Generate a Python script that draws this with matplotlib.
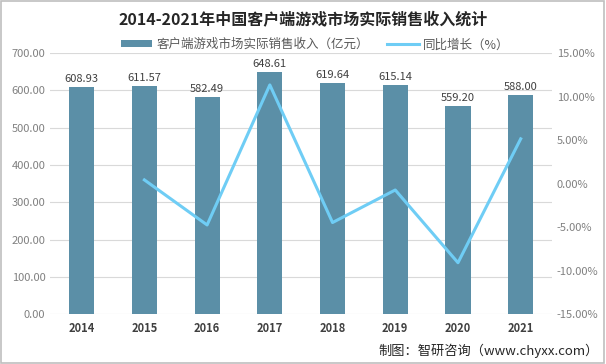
import matplotlib
matplotlib.use('Agg')
import matplotlib.pyplot as plt
import numpy as np

plt.rcParams['font.family'] = ['Noto Sans CJK SC', 'DejaVu Sans']

years = ['2014', '2015', '2016', '2017', '2018', '2019', '2020', '2021']
revenue = [608.93, 611.57, 582.49, 648.61, 619.64, 615.14, 559.20, 588.00]
growth_years = ['2015', '2016', '2017', '2018', '2019', '2020', '2021']
growth = [0.43, -4.75, 11.35, -4.47, -0.73, -9.09, 5.15]

bar_color = '#5b8fa7'
line_color = '#6fcdf5'
text_color = '#595959'

fig = plt.figure(figsize=(6.06, 3.64), dpi=100)
ax = fig.add_axes([0.083, 0.137, 0.828, 0.717])
x = np.arange(len(years))
bars = ax.bar(x, revenue, width=0.4, color=bar_color, zorder=2,
              label='客户端游戏市场实际销售收入（亿元）')
for xi, v in zip(x, revenue):
    ax.text(xi, v + 8, f'{v:.2f}', ha='center', va='bottom', fontsize=8, color='#404040')

ax.set_ylim(0, 700)
ax.set_yticks(np.arange(0, 701, 100))
ax.set_yticklabels([f'{v:.2f}' for v in np.arange(0, 701, 100)])
ax.set_xlim(-0.5, len(years) - 0.5)
ax.set_xticks(x)
ax.set_xticklabels(years, fontweight='bold', fontsize=8, color='#404040')
ax.tick_params(axis='y', labelsize=8, colors='#808080', length=0)
ax.tick_params(axis='x', length=0, pad=6)
ax.grid(axis='y', color='#d9d9d9', linewidth=0.8, zorder=0)
for s in ax.spines.values():
    s.set_visible(False)

ax2 = ax.twinx()
gx = [years.index(y) for y in growth_years]
ax2.plot(gx, growth, color=line_color, linewidth=2.2, zorder=3,
         label='同比增长（%）')
ax2.set_ylim(-15, 15)
ax2.set_yticks(np.arange(-15, 16, 5))
ax2.set_yticklabels([f'{v:.2f}%' for v in np.arange(-15, 16, 5)])
ax2.tick_params(axis='y', labelsize=8, colors='#808080', length=0)
for s in ax2.spines.values():
    s.set_visible(False)

h1, l1 = ax.get_legend_handles_labels()
h2, l2 = ax2.get_legend_handles_labels()
fig.legend(h1 + h2, l1 + l2, loc='center', bbox_to_anchor=(0.52, 0.877), ncol=2,
           frameon=False, fontsize=9, handlelength=2.5, columnspacing=1.5,
           handletextpad=0.3, labelcolor=text_color, handleheight=0.5)

fig.text(0.5, 0.945, '2014-2021年中国客户端游戏市场实际销售收入统计', ha='center', va='center',
         fontsize=11.5, fontweight='bold', color='#262626')
fig.text(0.988, 0.035, '制图：智研咨询（www.chyxx.com）', ha='right', va='center',
         fontsize=9.5, color='#262626')

fig.patches.append(plt.Rectangle((0.002, 0.003), 0.995, 0.994, transform=fig.transFigure,
                                 fill=False, edgecolor='#bfbfbf', linewidth=1.2))

fig.savefig('out.png', dpi=100)
